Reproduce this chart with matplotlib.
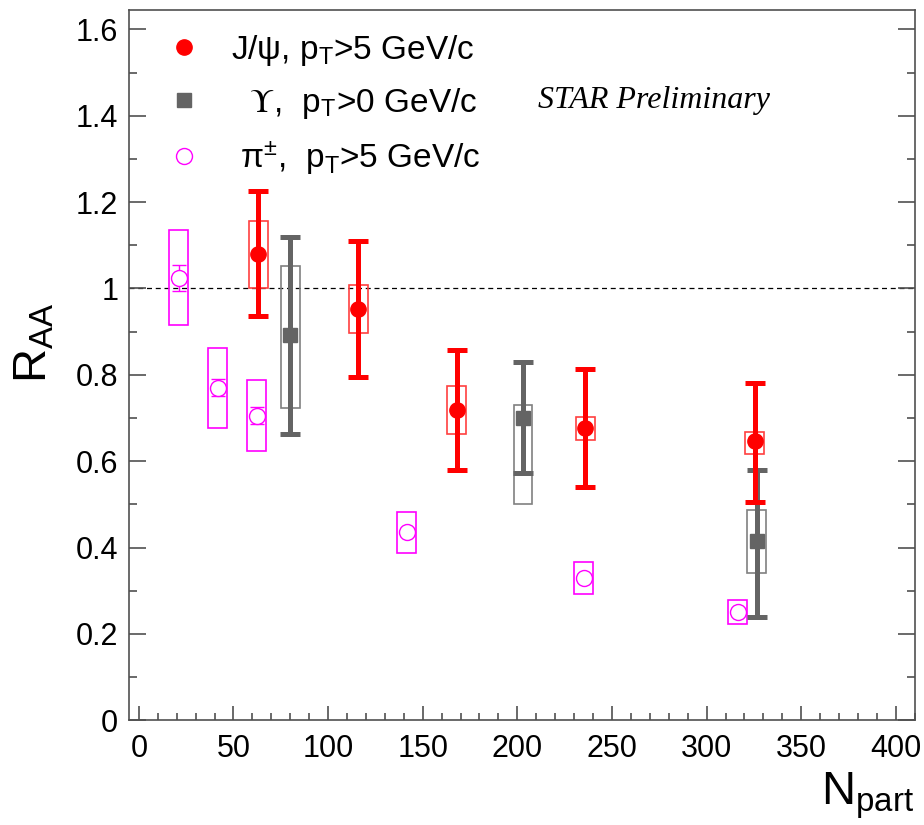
import matplotlib
matplotlib.use('Agg')
import matplotlib.pyplot as plt
from matplotlib.patches import Rectangle
from matplotlib.lines import Line2D
from matplotlib.ticker import MultipleLocator

plt.rcParams['font.family'] = ['Liberation Sans', 'DejaVu Sans']
plt.rcParams['mathtext.fontset'] = 'custom'
plt.rcParams['mathtext.rm'] = 'Liberation Sans'
plt.rcParams['mathtext.it'] = 'Liberation Sans:italic'

# J/psi, pT > 5 GeV/c
jpsi_x = [63, 116, 168, 236, 325.5]
jpsi_y = [1.08, 0.953, 0.719, 0.677, 0.647]
jpsi_stat_hi = [1.225, 1.109, 0.858, 0.814, 0.78]
jpsi_stat_lo = [0.937, 0.796, 0.58, 0.54, 0.506]
jpsi_sys_hi = [1.155, 1.009, 0.775, 0.703, 0.668]
jpsi_sys_lo = [1.0, 0.896, 0.663, 0.65, 0.617]

# Upsilon, pT > 0
ups_x = [80, 203, 326.5]
ups_y = [0.891, 0.70, 0.415]
ups_stat_hi = [1.12, 0.83, 0.58]
ups_stat_lo = [0.664, 0.573, 0.239]
ups_sys_hi = [1.051, 0.731, 0.487]
ups_sys_lo = [0.724, 0.501, 0.341]

# pi+-, pT > 5 GeV/c
pi_x = [21, 41.7, 62.3, 141.6, 235, 316.5]
pi_y = [1.025, 0.77, 0.705, 0.436, 0.33, 0.25]
pi_stat = [0.03, 0.02, 0.02, 0.0, 0.0, 0.0]
pi_sys_hi = [1.135, 0.861, 0.789, 0.483, 0.367, 0.278]
pi_sys_lo = [0.916, 0.677, 0.624, 0.387, 0.292, 0.223]

box_w = 10

fig = plt.figure(figsize=(9.24, 8.25), dpi=100)
ax = fig.add_axes([0.14, 0.127, 0.85, 0.861])

ax.axhline(1.0, color='black', ls=(0, (4, 3)), lw=0.9, zorder=1)

def boxes(xs, lo, hi, color):
    for x, l, h in zip(xs, lo, hi):
        ax.add_patch(Rectangle((x - box_w / 2, l), box_w, h - l, fill=False,
                               edgecolor=color, lw=1.2, zorder=2))

boxes(pi_x, pi_sys_lo, pi_sys_hi, '#ff00ff')
boxes(jpsi_x, jpsi_sys_lo, jpsi_sys_hi, '#ff4040')
boxes(ups_x, ups_sys_lo, ups_sys_hi, '#808080')

# stat errors
ax.errorbar(pi_x, pi_y, yerr=pi_stat, fmt='none', ecolor='#ff00ff', elinewidth=1,
            capsize=5, capthick=1, zorder=3)
ax.errorbar(ups_x, ups_y,
            yerr=[[y - l for y, l in zip(ups_y, ups_stat_lo)], [h - y for y, h in zip(ups_y, ups_stat_hi)]],
            fmt='none', ecolor='#646464', elinewidth=3.6, capsize=7, capthick=3.6, zorder=3)
ax.errorbar(jpsi_x, jpsi_y,
            yerr=[[y - l for y, l in zip(jpsi_y, jpsi_stat_lo)], [h - y for y, h in zip(jpsi_y, jpsi_stat_hi)]],
            fmt='none', ecolor='#ff0000', elinewidth=3.6, capsize=7, capthick=3.6, zorder=4)

ax.plot(pi_x, pi_y, 'o', ms=11.5, mfc='white', mec='#ff00ff', mew=1.0, zorder=5)
ax.plot(ups_x, ups_y, 's', ms=10, color='#646464', zorder=5)
ax.plot(jpsi_x, jpsi_y, 'o', ms=11, color='#ff0000', zorder=6)

ax.set_xlim(-5, 410)
ax.set_ylim(0, 1.645)
ax.xaxis.set_major_locator(MultipleLocator(50))
ax.xaxis.set_minor_locator(MultipleLocator(10))
ax.yaxis.set_minor_locator(MultipleLocator(0.1))
ax.set_yticks([0, 0.2, 0.4, 0.6, 0.8, 1.0, 1.2, 1.4, 1.6])
ax.set_yticklabels(['0', '0.2', '0.4', '0.6', '0.8', '1', '1.2', '1.4', '1.6'])
ax.tick_params(which='both', direction='in', labelsize=22, top=False, right=True,
               color='#505050')
ax.tick_params(axis='x', which='major', length=10, width=1.2, pad=10)
ax.tick_params(axis='x', which='minor', length=5, width=1.2)
ax.tick_params(axis='y', which='major', length=12, width=1.2, pad=8)
ax.tick_params(axis='y', which='minor', length=6, width=1.2)
for s in ax.spines.values():
    s.set_linewidth(1.2)
    s.set_color('#505050')

fig.text(0.014, 0.585, r'R$_{\rm AA}$', fontsize=34, rotation=90, ha='left', va='center')
fig.text(0.99, 0.005, r'N$_{\rm part}$', fontsize=34, ha='right', va='bottom')

handles = [
    Line2D([], [], ls='none', marker='o', ms=11, color='#ff0000'),
    Line2D([], [], ls='none', marker='s', ms=10, color='#646464'),
    Line2D([], [], ls='none', marker='o', ms=11.5, mfc='white', mec='#ff00ff', mew=1.0),
]
labels = ['J/ψ, p$_{\\rm T}$>5 GeV/c',
          '  $\\Upsilon$,  p$_{\\mathdefault{T}}$>0 GeV/c',
          ' π$^{\\pm}$,  p$_{\\rm T}$>5 GeV/c']
leg = ax.legend(handles, labels, loc='upper left', bbox_to_anchor=(0.01, 1.01), frameon=False,
                fontsize=24, labelspacing=0.55, handletextpad=0.9, handlelength=1.0)
leg.get_texts()[1].set_math_fontfamily('stix')

ax.text(0.52, 0.873, 'STAR Preliminary', transform=ax.transAxes, fontsize=23,
        family='Liberation Serif', style='italic', ha='left', va='center')

fig.savefig('out.png', dpi=100)
